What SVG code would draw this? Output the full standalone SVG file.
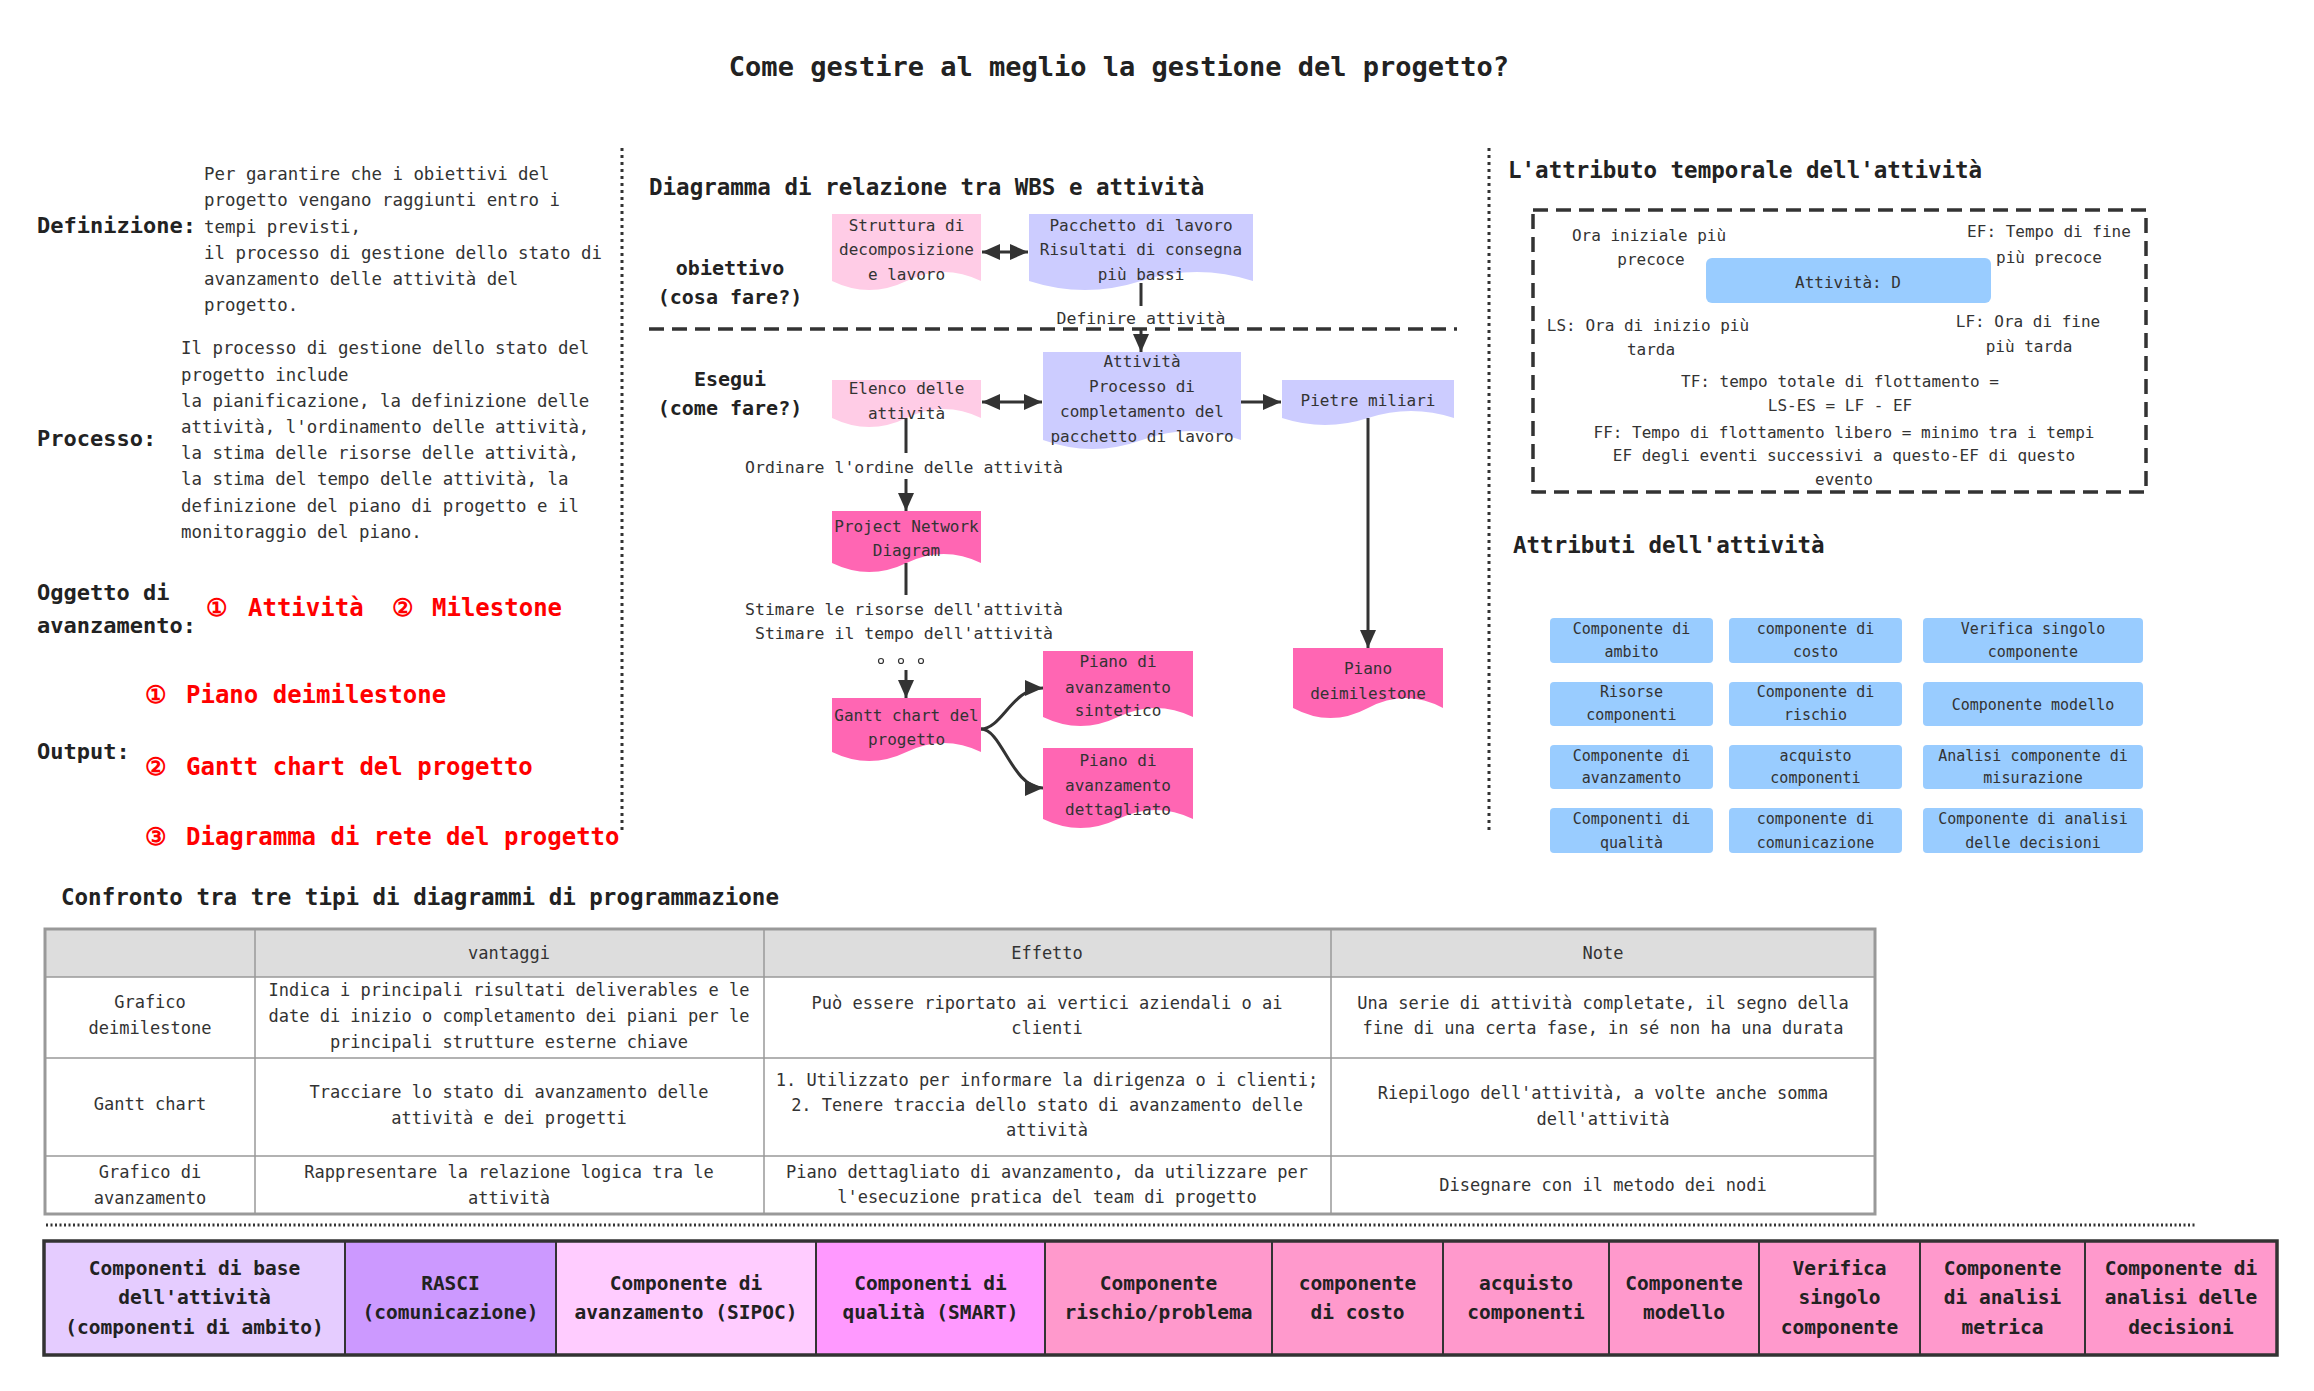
<svg xmlns="http://www.w3.org/2000/svg" width="2314" height="1391" viewBox="0 0 2314 1391">
<defs>
<style>
text{font-family:"DejaVu Sans Mono","Liberation Mono",monospace;fill:#333;dominant-baseline:central}
.b{font-weight:bold;fill:#222}
.c{text-anchor:middle}
.red{fill:#ff0000;font-weight:bold;font-size:24px}
.s15{font-size:15px}.s16{font-size:16px}.s165{font-size:16.5px}.s17{font-size:17px}.s174{font-size:17.4px}
.s195{font-size:19.5px}.s20{font-size:20px}.s22{font-size:22px}.s225{font-size:22.5px}.s27{font-size:27px}
.pk{fill:#ffcce6}.lv{fill:#ccccff}.hp{fill:#ff66b3}
.blue{fill:#99ccff}
.ln{stroke:#333;stroke-width:3;fill:none}
.arr{marker-end:url(#ah)}
.darr{marker-start:url(#ah);marker-end:url(#ah)}
.dot{stroke:#333;stroke-width:3;stroke-dasharray:3 4;fill:none}
.dash{stroke:#333;stroke-width:3.5;stroke-dasharray:15 8;fill:none}
.tb{stroke:#999;stroke-width:1.5;fill:none}
.band{stroke:#333;stroke-width:2}
</style>
<marker id="ah" markerUnits="userSpaceOnUse" markerWidth="18" markerHeight="16" refX="18" refY="8" orient="auto-start-reverse">
<path d="M0,0 L18,8 L0,16 z" fill="#333"/>
</marker>
</defs>
<rect width="2314" height="1391" fill="#fff"/>

<g id="title"><text class="b c s27" x="1119" y="66">Come gestire al meglio la gestione del progetto?</text></g>

<g id="left-panel">
<text class="b s22" x="37" y="225">Definizione:</text>
<text class="s174" x="204" y="174">Per garantire che i obiettivi del</text>
<text class="s174" x="204" y="200">progetto vengano raggiunti entro i</text>
<text class="s174" x="204" y="227">tempi previsti,</text>
<text class="s174" x="204" y="253">il processo di gestione dello stato di</text>
<text class="s174" x="204" y="279">avanzamento delle attività del</text>
<text class="s174" x="204" y="305">progetto.</text>
<text class="b s22" x="37" y="438">Processo:</text>
<text class="s174" x="181" y="348">Il processo di gestione dello stato del</text>
<text class="s174" x="181" y="375">progetto include</text>
<text class="s174" x="181" y="401">la pianificazione, la definizione delle</text>
<text class="s174" x="181" y="427">attività, l'ordinamento delle attività,</text>
<text class="s174" x="181" y="453">la stima delle risorse delle attività,</text>
<text class="s174" x="181" y="479">la stima del tempo delle attività, la</text>
<text class="s174" x="181" y="506">definizione del piano di progetto e il</text>
<text class="s174" x="181" y="532">monitoraggio del piano.</text>
<text class="b s22" x="37" y="592">Oggetto di</text>
<text class="b s22" x="37" y="625">avanzamento:</text>
<text class="red" y="608"><tspan x="206">①</tspan><tspan x="248">Attività</tspan><tspan x="392">②</tspan><tspan x="432">Milestone</tspan></text>
<text class="b s22" x="37" y="751">Output:</text>
<text class="red" y="695"><tspan x="145">①</tspan><tspan x="186">Piano deimilestone</tspan></text>
<text class="red" y="767"><tspan x="145">②</tspan><tspan x="186">Gantt chart del progetto</tspan></text>
<text class="red" y="837"><tspan x="145">③</tspan><tspan x="186">Diagramma di rete del progetto</tspan></text>
</g>

<g id="separators">
<line class="dot" x1="622" y1="148" x2="622" y2="834"/>
<line class="dot" x1="1489" y1="148" x2="1489" y2="831"/>
<line class="dash" x1="649" y1="329" x2="1457" y2="329"/>
<line x1="46" y1="1225" x2="2195" y2="1225" stroke="#333" stroke-width="3" stroke-dasharray="2 2.5"/>
</g>

<g id="middle-labels">
<text class="b s225" x="649" y="187">Diagramma di relazione tra WBS e attività</text>
<text class="b c s20" x="730" y="268">obiettivo</text>
<text class="b c s20" x="730" y="297">(cosa fare?)</text>
<text class="b c s20" x="730" y="379">Esegui</text>
<text class="b c s20" x="730" y="408">(come fare?)</text>
</g>

<g id="n-wbs">
<path class="pk" d="M832,214 H981 V281 Q943.75,263 906.5,281 T832,281 Z"/>
<text class="c s16" x="906.5" y="225">Struttura di</text>
<text class="c s16" x="906.5" y="249">decomposizione</text>
<text class="c s16" x="906.5" y="274">e lavoro</text>
</g>
<g id="n-pacchetto">
<path class="lv" d="M1029,214 H1253 V281 Q1197,263 1141,281 T1029,281 Z"/>
<text class="c s16" x="1141" y="225">Pacchetto di lavoro</text>
<text class="c s16" x="1141" y="249">Risultati di consegna</text>
<text class="c s16" x="1141" y="274">più bassi</text>
</g>
<g id="n-attivita">
<path class="lv" d="M1043,352 H1241 V440 Q1191.5,422 1142,440 T1043,440 Z"/>
<text class="c s16" x="1142" y="361">Attività</text>
<text class="c s16" x="1142" y="386">Processo di</text>
<text class="c s16" x="1142" y="411">completamento del</text>
<text class="c s16" x="1142" y="436">pacchetto di lavoro</text>
</g>
<g id="n-elenco">
<path class="pk" d="M832,380 H981 V418 Q943.75,400 906.5,418 T832,418 Z"/>
<text class="c s16" x="906.5" y="388">Elenco delle</text>
<text class="c s16" x="906.5" y="413">attività</text>
</g>
<g id="n-pietre">
<path class="lv" d="M1282,380 H1454 V418 Q1411,404 1368,418 T1282,418 Z"/>
<text class="c s16" x="1368" y="400">Pietre miliari</text>
</g>
<g id="n-pnd">
<path class="hp" d="M832,511 H981 V563 Q943.75,545 906.5,563 T832,563 Z"/>
<text class="c s16" x="906.5" y="526">Project Network</text>
<text class="c s16" x="906.5" y="550">Diagram</text>
</g>
<g id="n-gantt">
<path class="hp" d="M832,698 H981 V752 Q943.75,734 906.5,752 T832,752 Z"/>
<text class="c s16" x="906.5" y="715">Gantt chart del</text>
<text class="c s16" x="906.5" y="739">progetto</text>
</g>
<g id="n-sintetico">
<path class="hp" d="M1043,651 H1193 V717 Q1155.5,699 1118,717 T1043,717 Z"/>
<text class="c s16" x="1118" y="661">Piano di</text>
<text class="c s16" x="1118" y="687">avanzamento</text>
<text class="c s16" x="1118" y="710">sintetico</text>
</g>
<g id="n-dettagliato">
<path class="hp" d="M1043,748 H1193 V819 Q1155.5,801 1118,819 T1043,819 Z"/>
<text class="c s16" x="1118" y="760">Piano di</text>
<text class="c s16" x="1118" y="785">avanzamento</text>
<text class="c s16" x="1118" y="809">dettagliato</text>
</g>
<g id="n-milestone">
<path class="hp" d="M1293,648 H1443 V708 Q1405.5,688 1368,708 T1293,708 Z"/>
<text class="c s16" x="1368" y="668">Piano</text>
<text class="c s16" x="1368" y="693">deimilestone</text>
</g>

<g id="connectors">
<line class="ln darr" x1="982" y1="252" x2="1028" y2="252"/>
<line class="ln" x1="1141" y1="283" x2="1141" y2="306"/>
<text class="c s165" x="1141" y="318">Definire attività</text>
<line class="ln arr" x1="1141" y1="329" x2="1141" y2="352"/>
<line class="ln darr" x1="982" y1="402" x2="1042" y2="402"/>
<line class="ln arr" x1="1241" y1="402" x2="1281" y2="402"/>
<line class="ln" x1="906" y1="418" x2="906" y2="453"/>
<text class="c s165" x="904" y="467">Ordinare l'ordine delle attività</text>
<line class="ln arr" x1="906" y1="479" x2="906" y2="511"/>
<line class="ln" x1="906" y1="563" x2="906" y2="595"/>
<text class="c s165" x="904" y="609">Stimare le risorse dell'attività</text>
<text class="c s165" x="904" y="633">Stimare il tempo dell'attività</text>
<circle cx="881" cy="661" r="2.5" fill="none" stroke="#333" stroke-width="1.2"/>
<circle cx="901" cy="661" r="2.5" fill="none" stroke="#333" stroke-width="1.2"/>
<circle cx="921" cy="661" r="2.5" fill="none" stroke="#333" stroke-width="1.2"/>
<line class="ln arr" x1="906" y1="670" x2="906" y2="698"/>
<path class="ln arr" d="M981,729 C1002,729 1012,688 1043,688"/>
<path class="ln arr" d="M981,729 C1002,729 1012,788 1043,788"/>
<line class="ln arr" x1="1368" y1="418" x2="1368" y2="648"/>
</g>

<g id="time-attributes">
<text class="b s225" x="1508" y="170">L'attributo temporale dell'attività</text>
<rect class="dash" x="1533" y="210" width="613" height="282"/>
<text class="c s16" x="1649" y="235">Ora iniziale più</text>
<text class="c s16" x="1651" y="259">precoce</text>
<text class="c s16" x="2049" y="231">EF: Tempo di fine</text>
<text class="c s16" x="2049" y="257">più precoce</text>
<rect class="blue" x="1706" y="258" width="285" height="45" rx="6"/>
<text class="c s16" x="1848" y="282">Attività: D</text>
<text class="c s16" x="1648" y="325">LS: Ora di inizio più</text>
<text class="c s16" x="1651" y="349">tarda</text>
<text class="c s16" x="2028" y="321">LF: Ora di fine</text>
<text class="c s16" x="2029" y="346">più tarda</text>
<text class="c s16" x="1840" y="381">TF: tempo totale di flottamento =</text>
<text class="c s16" x="1840" y="405">LS-ES = LF - EF</text>
<text class="c s16" x="1844" y="432">FF: Tempo di flottamento libero = minimo tra i tempi</text>
<text class="c s16" x="1844" y="455">EF degli eventi successivi a questo-EF di questo</text>
<text class="c s16" x="1844" y="479">evento</text>
</g>

<g id="activity-attributes">
<text class="b s225" x="1513" y="545">Attributi dell'attività</text>
<g id="a1"><rect class="blue" x="1550" y="618" width="163" height="45" rx="4"/><text class="c s15" x="1631.5" y="629">Componente di</text><text class="c s15" x="1631.5" y="652">ambito</text></g>
<g id="a2"><rect class="blue" x="1729" y="618" width="173" height="45" rx="4"/><text class="c s15" x="1815.5" y="629">componente di</text><text class="c s15" x="1815.5" y="652">costo</text></g>
<g id="a3"><rect class="blue" x="1923" y="618" width="220" height="45" rx="4"/><text class="c s15" x="2033" y="629">Verifica singolo</text><text class="c s15" x="2033" y="652">componente</text></g>
<g id="a4"><rect class="blue" x="1550" y="682" width="163" height="44" rx="4"/><text class="c s15" x="1631.5" y="692">Risorse</text><text class="c s15" x="1631.5" y="715">componenti</text></g>
<g id="a5"><rect class="blue" x="1729" y="682" width="173" height="44" rx="4"/><text class="c s15" x="1815.5" y="692">Componente di</text><text class="c s15" x="1815.5" y="715">rischio</text></g>
<g id="a6"><rect class="blue" x="1923" y="682" width="220" height="44" rx="4"/><text class="c s15" x="2033" y="705">Componente modello</text></g>
<g id="a7"><rect class="blue" x="1550" y="745" width="163" height="44" rx="4"/><text class="c s15" x="1631.5" y="756">Componente di</text><text class="c s15" x="1631.5" y="778">avanzamento</text></g>
<g id="a8"><rect class="blue" x="1729" y="745" width="173" height="44" rx="4"/><text class="c s15" x="1815.5" y="756">acquisto</text><text class="c s15" x="1815.5" y="778">componenti</text></g>
<g id="a9"><rect class="blue" x="1923" y="745" width="220" height="44" rx="4"/><text class="c s15" x="2033" y="756">Analisi componente di</text><text class="c s15" x="2033" y="778">misurazione</text></g>
<g id="a10"><rect class="blue" x="1550" y="808" width="163" height="45" rx="4"/><text class="c s15" x="1631.5" y="819">Componenti di</text><text class="c s15" x="1631.5" y="843">qualità</text></g>
<g id="a11"><rect class="blue" x="1729" y="808" width="173" height="45" rx="4"/><text class="c s15" x="1815.5" y="819">componente di</text><text class="c s15" x="1815.5" y="843">comunicazione</text></g>
<g id="a12"><rect class="blue" x="1923" y="808" width="220" height="45" rx="4"/><text class="c s15" x="2033" y="819">Componente di analisi</text><text class="c s15" x="2033" y="843">delle decisioni</text></g>
</g>

<g id="comparison-table">
<text class="b s225" x="61" y="897">Confronto tra tre tipi di diagrammi di programmazione</text>
<rect x="45" y="929" width="1830" height="48" fill="#dddddd"/>
<line class="tb" x1="255" y1="929" x2="255" y2="1214"/>
<line class="tb" x1="764" y1="929" x2="764" y2="1214"/>
<line class="tb" x1="1331" y1="929" x2="1331" y2="1214"/>
<line class="tb" x1="45" y1="977" x2="1875" y2="977"/>
<line class="tb" x1="45" y1="1058" x2="1875" y2="1058"/>
<line class="tb" x1="45" y1="1156" x2="1875" y2="1156"/>
<rect x="45" y="929" width="1830" height="285" fill="none" stroke="#999" stroke-width="3"/>
<text class="c s17" x="509" y="953">vantaggi</text>
<text class="c s17" x="1047" y="953">Effetto</text>
<text class="c s17" x="1603" y="953">Note</text>
<text class="c s17" x="150" y="1002">Grafico</text>
<text class="c s17" x="150" y="1028">deimilestone</text>
<text class="c s17" x="509" y="990">Indica i principali risultati deliverables e le</text>
<text class="c s17" x="509" y="1016">date di inizio o completamento dei piani per le</text>
<text class="c s17" x="509" y="1042">principali strutture esterne chiave</text>
<text class="c s17" x="1047" y="1003">Può essere riportato ai vertici aziendali o ai</text>
<text class="c s17" x="1047" y="1028">clienti</text>
<text class="c s17" x="1603" y="1003">Una serie di attività completate, il segno della</text>
<text class="c s17" x="1603" y="1028">fine di una certa fase, in sé non ha una durata</text>
<text class="c s17" x="150" y="1104">Gantt chart</text>
<text class="c s17" x="509" y="1092">Tracciare lo stato di avanzamento delle</text>
<text class="c s17" x="509" y="1118">attività e dei progetti</text>
<text class="c s17" x="1047" y="1080">1. Utilizzato per informare la dirigenza o i clienti;</text>
<text class="c s17" x="1047" y="1105">2. Tenere traccia dello stato di avanzamento delle</text>
<text class="c s17" x="1047" y="1130">attività</text>
<text class="c s17" x="1603" y="1093">Riepilogo dell'attività, a volte anche somma</text>
<text class="c s17" x="1603" y="1119">dell'attività</text>
<text class="c s17" x="150" y="1172">Grafico di</text>
<text class="c s17" x="150" y="1198">avanzamento</text>
<text class="c s17" x="509" y="1172">Rappresentare la relazione logica tra le</text>
<text class="c s17" x="509" y="1198">attività</text>
<text class="c s17" x="1047" y="1172">Piano dettagliato di avanzamento, da utilizzare per</text>
<text class="c s17" x="1047" y="1197">l'esecuzione pratica del team di progetto</text>
<text class="c s17" x="1603" y="1185">Disegnare con il metodo dei nodi</text>
</g>

<g id="component-band">
<g id="c1"><rect class="band" x="44" y="1241" width="301" height="114" fill="#e5ccff"/><text class="b c s195" x="194.5" y="1268">Componenti di base</text><text class="b c s195" x="194.5" y="1297">dell'attività</text><text class="b c s195" x="194.5" y="1327">(componenti di ambito)</text></g>
<g id="c2"><rect class="band" x="345" y="1241" width="211" height="114" fill="#cc99ff"/><text class="b c s195" x="450.5" y="1283">RASCI</text><text class="b c s195" x="450.5" y="1312">(comunicazione)</text></g>
<g id="c3"><rect class="band" x="556" y="1241" width="260" height="114" fill="#ffccff"/><text class="b c s195" x="686" y="1283">Componente di</text><text class="b c s195" x="686" y="1312">avanzamento (SIPOC)</text></g>
<g id="c4"><rect class="band" x="816" y="1241" width="229" height="114" fill="#ff99ff"/><text class="b c s195" x="930.5" y="1283">Componenti di</text><text class="b c s195" x="930.5" y="1312">qualità (SMART)</text></g>
<g id="c5"><rect class="band" x="1045" y="1241" width="227" height="114" fill="#ff99cc"/><text class="b c s195" x="1158.5" y="1283">Componente</text><text class="b c s195" x="1158.5" y="1312">rischio/problema</text></g>
<g id="c6"><rect class="band" x="1272" y="1241" width="171" height="114" fill="#ff99cc"/><text class="b c s195" x="1357.5" y="1283">componente</text><text class="b c s195" x="1357.5" y="1312">di costo</text></g>
<g id="c7"><rect class="band" x="1443" y="1241" width="166" height="114" fill="#ff99cc"/><text class="b c s195" x="1526" y="1283">acquisto</text><text class="b c s195" x="1526" y="1312">componenti</text></g>
<g id="c8"><rect class="band" x="1609" y="1241" width="150" height="114" fill="#ff99cc"/><text class="b c s195" x="1684" y="1283">Componente</text><text class="b c s195" x="1684" y="1312">modello</text></g>
<g id="c9"><rect class="band" x="1759" y="1241" width="161" height="114" fill="#ff99cc"/><text class="b c s195" x="1839.5" y="1268">Verifica</text><text class="b c s195" x="1839.5" y="1297">singolo</text><text class="b c s195" x="1839.5" y="1327">componente</text></g>
<g id="c10"><rect class="band" x="1920" y="1241" width="165" height="114" fill="#ff99cc"/><text class="b c s195" x="2002.5" y="1268">Componente</text><text class="b c s195" x="2002.5" y="1297">di analisi</text><text class="b c s195" x="2002.5" y="1327">metrica</text></g>
<g id="c11"><rect class="band" x="2085" y="1241" width="192" height="114" fill="#ff99cc"/><text class="b c s195" x="2181" y="1268">Componente di</text><text class="b c s195" x="2181" y="1297">analisi delle</text><text class="b c s195" x="2181" y="1327">decisioni</text></g>
<rect x="44" y="1241" width="2233" height="114" fill="none" stroke="#333" stroke-width="3.5"/>
</g>
</svg>
